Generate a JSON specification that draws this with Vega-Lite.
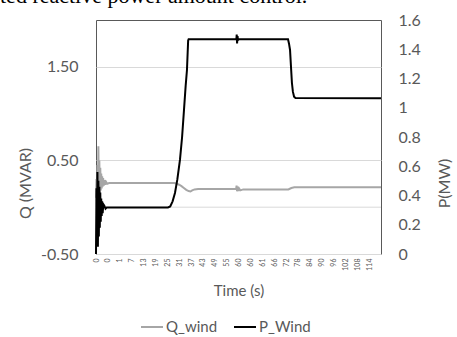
{
  "$schema": "https://vega.github.io/schema/vega-lite/v6.json",
  "width": 285,
  "height": 234,
  "autosize": {"type": "none"},
  "padding": {"left": 96, "top": 20, "right": 76, "bottom": 83},
  "config": {
    "view": {"stroke": "#595959", "strokeWidth": 1},
    "font": "Lato",
    "axisX": {"labelOverlap": false, "labelFlush": false, "labelBound": false},
    "legend": {
      "orient": "none", "legendX": 44, "legendY": 295, "direction": "horizontal",
      "symbolType": "stroke", "symbolSize": 484, "symbolStrokeWidth": 2,
      "labelFontSize": 15, "labelColor": "#595959", "labelOffset": 2, "columnPadding": 12, "title": null
    }
  },
  "title": {
    "text": "ted reactive power amount control.",
    "anchor": "start", "frame": "group", "offset": 0, "dx": -96, "dy": 13,
    "baseline": "alphabetic", "font": "Liberation Serif", "fontSize": 22,
    "fontWeight": "normal", "color": "#000000"
  },
  "data": {"values": [
    {"s":"Q_wind","k":0,"v":0.1},{"s":"Q_wind","k":0.04,"v":0.3},{"s":"Q_wind","k":0.08,"v":0.0},{"s":"Q_wind","k":0.12,"v":0.45},
    {"s":"Q_wind","k":0.16,"v":0.05},{"s":"Q_wind","k":0.2,"v":0.65},{"s":"Q_wind","k":0.24,"v":0.1},{"s":"Q_wind","k":0.28,"v":0.5},
    {"s":"Q_wind","k":0.32,"v":0.15},{"s":"Q_wind","k":0.36,"v":0.42},{"s":"Q_wind","k":0.4,"v":0.18},{"s":"Q_wind","k":0.44,"v":0.36},
    {"s":"Q_wind","k":0.48,"v":0.2},{"s":"Q_wind","k":0.52,"v":0.33},{"s":"Q_wind","k":0.56,"v":0.22},{"s":"Q_wind","k":0.6,"v":0.31},
    {"s":"Q_wind","k":0.66,"v":0.23},{"s":"Q_wind","k":0.72,"v":0.29},{"s":"Q_wind","k":0.78,"v":0.24},{"s":"Q_wind","k":0.85,"v":0.27},
    {"s":"Q_wind","k":0.95,"v":0.25},{"s":"Q_wind","k":1.1,"v":0.258},{"s":"Q_wind","k":6.6,"v":0.258},{"s":"Q_wind","k":6.8,"v":0.25},
    {"s":"Q_wind","k":7.0,"v":0.24},{"s":"Q_wind","k":7.2,"v":0.225},{"s":"Q_wind","k":7.4,"v":0.205},{"s":"Q_wind","k":7.6,"v":0.185},
    {"s":"Q_wind","k":7.8,"v":0.172},{"s":"Q_wind","k":7.95,"v":0.168},{"s":"Q_wind","k":8.1,"v":0.18},{"s":"Q_wind","k":8.3,"v":0.19},
    {"s":"Q_wind","k":8.6,"v":0.195},{"s":"Q_wind","k":11.8,"v":0.195},{"s":"Q_wind","k":11.84,"v":0.23},{"s":"Q_wind","k":11.88,"v":0.17},
    {"s":"Q_wind","k":11.93,"v":0.22},{"s":"Q_wind","k":11.98,"v":0.175},{"s":"Q_wind","k":12.05,"v":0.2},{"s":"Q_wind","k":12.15,"v":0.18},
    {"s":"Q_wind","k":12.4,"v":0.19},{"s":"Q_wind","k":13,"v":0.19},{"s":"Q_wind","k":16.2,"v":0.19},{"s":"Q_wind","k":16.45,"v":0.205},
    {"s":"Q_wind","k":16.7,"v":0.212},{"s":"Q_wind","k":24,"v":0.212},
    {"s":"P_Wind","k":0,"v":0},{"s":"P_Wind","k":0.04,"v":0.45},{"s":"P_Wind","k":0.08,"v":0.08},{"s":"P_Wind","k":0.12,"v":0.56},
    {"s":"P_Wind","k":0.16,"v":0.05},{"s":"P_Wind","k":0.2,"v":0.5},{"s":"P_Wind","k":0.24,"v":0.12},{"s":"P_Wind","k":0.28,"v":0.46},
    {"s":"P_Wind","k":0.32,"v":0.18},{"s":"P_Wind","k":0.36,"v":0.42},{"s":"P_Wind","k":0.4,"v":0.22},{"s":"P_Wind","k":0.44,"v":0.38},
    {"s":"P_Wind","k":0.48,"v":0.26},{"s":"P_Wind","k":0.52,"v":0.36},{"s":"P_Wind","k":0.56,"v":0.28},{"s":"P_Wind","k":0.62,"v":0.34},
    {"s":"P_Wind","k":0.7,"v":0.33},{"s":"P_Wind","k":0.8,"v":0.31},{"s":"P_Wind","k":0.9,"v":0.318},{"s":"P_Wind","k":1.0,"v":0.318},
    {"s":"P_Wind","k":6.06,"v":0.318},{"s":"P_Wind","k":6.25,"v":0.325},{"s":"P_Wind","k":6.45,"v":0.36},{"s":"P_Wind","k":6.65,"v":0.417},
    {"s":"P_Wind","k":6.85,"v":0.51},{"s":"P_Wind","k":7.07,"v":0.643},{"s":"P_Wind","k":7.25,"v":0.8},{"s":"P_Wind","k":7.41,"v":0.985},
    {"s":"P_Wind","k":7.55,"v":1.15},{"s":"P_Wind","k":7.66,"v":1.258},{"s":"P_Wind","k":7.72,"v":1.38},{"s":"P_Wind","k":7.76,"v":1.46},
    {"s":"P_Wind","k":7.8,"v":1.468},{"s":"P_Wind","k":11.82,"v":1.468},{"s":"P_Wind","k":11.85,"v":1.5},{"s":"P_Wind","k":11.88,"v":1.44},
    {"s":"P_Wind","k":11.92,"v":1.49},{"s":"P_Wind","k":11.96,"v":1.46},{"s":"P_Wind","k":12.0,"v":1.468},{"s":"P_Wind","k":16.17,"v":1.468},
    {"s":"P_Wind","k":16.25,"v":1.44},{"s":"P_Wind","k":16.34,"v":1.395},{"s":"P_Wind","k":16.42,"v":1.28},{"s":"P_Wind","k":16.5,"v":1.169},
    {"s":"P_Wind","k":16.58,"v":1.11},{"s":"P_Wind","k":16.68,"v":1.075},{"s":"P_Wind","k":16.8,"v":1.066},{"s":"P_Wind","k":24,"v":1.065}
  ]},
  "layer": [
    {
      "layer": [
        {
          "data": {"values": [{"q": 0}]},
          "mark": {"type": "rule", "color": "#d9d9d9", "strokeWidth": 1},
          "encoding": {"y": {"field": "q", "type": "quantitative"}}
        },
        {
          "transform": [{"filter": "datum.s === 'Q_wind'"}],
          "mark": {"type": "line", "strokeWidth": 2},
          "encoding": {
            "x": {
              "field": "k", "type": "quantitative",
              "scale": {"domain": [0, 24], "nice": false, "zero": false},
              "axis": {
                "values": [0,1,2,3,4,5,6,7,8,9,10,11,12,13,14,15,16,17,18,19,20,21,22,23],
                "labelExpr": "['0','0','1','7','13','19','25','31','37','43','49','55','60','60','61','66','72','78','84','90','96','102','108','114'][datum.value]",
                "labelAngle": -90, "labelFontSize": 7, "labelColor": "#595959", "labelPadding": 4,
                "labelFlush": false, "labelOverlap": false, "labelBound": false,
                "ticks": false, "domain": false, "grid": false,
                "title": "Time (s)", "titleFontSize": 15, "titleFontWeight": "normal", "titleColor": "#595959",
                "titleY": 36, "titleBaseline": "middle"
              }
            },
            "y": {
              "field": "v", "type": "quantitative",
              "scale": {"domain": [-0.5, 2], "nice": false, "zero": false},
              "axis": {
                "values": [-0.5, 0.5, 1.5],
                "labelExpr": "datum.value < 0 ? '-' + format(-datum.value, '.2f') : format(datum.value, '.2f')",
                "labelFontSize": 16, "labelColor": "#595959", "labelPadding": 18,
                "ticks": false, "domain": false, "grid": true, "gridColor": "#d9d9d9",
                "title": "Q (MVAR)", "titleFontSize": 16, "titleFontWeight": "normal", "titleColor": "#595959",
                "titleX": -71, "titleY": 163, "titleAngle": 270, "titleAlign": "center", "titleBaseline": "middle"
              }
            },
            "color": {
              "field": "s", "type": "nominal",
              "scale": {"domain": ["Q_wind", "P_Wind"], "range": ["#a6a6a6", "#000000"]}
            }
          }
        }
      ]
    },
    {
      "transform": [{"filter": "datum.s === 'P_Wind'"}],
      "mark": {"type": "line", "strokeWidth": 2},
      "encoding": {
        "x": {
          "field": "k", "type": "quantitative",
          "axis": {
            "values": [0,1,2,3,4,5,6,7,8,9,10,11,12,13,14,15,16,17,18,19,20,21,22,23],
            "labelExpr": "['0','0','1','7','13','19','25','31','37','43','49','55','60','60','61','66','72','78','84','90','96','102','108','114'][datum.value]",
            "labelAngle": -90, "labelFontSize": 7, "labelColor": "#595959", "labelPadding": 4,
            "labelFlush": false, "labelOverlap": false, "labelBound": false,
            "ticks": false, "domain": false, "grid": false,
            "title": "Time (s)", "titleFontSize": 15, "titleFontWeight": "normal", "titleColor": "#595959",
            "titleY": 36, "titleBaseline": "middle"
          }
        },
        "y": {
          "field": "v", "type": "quantitative",
          "scale": {"domain": [0, 1.6], "nice": false, "zero": false},
          "axis": {
            "orient": "right",
            "values": [0, 0.2, 0.4, 0.6, 0.8, 1, 1.2, 1.4, 1.6],
            "format": ".1~f",
            "labelFontSize": 16, "labelColor": "#595959", "labelPadding": 17,
            "ticks": false, "domain": false, "grid": false,
            "title": "P(MW)", "titleFontSize": 16, "titleFontWeight": "normal", "titleColor": "#595959",
            "titleX": 63, "titleY": 163, "titleAngle": 270, "titleAlign": "center", "titleBaseline": "middle"
          }
        },
        "color": {"field": "s", "type": "nominal"}
      }
    }
  ],
  "resolve": {"scale": {"y": "independent"}}
}
